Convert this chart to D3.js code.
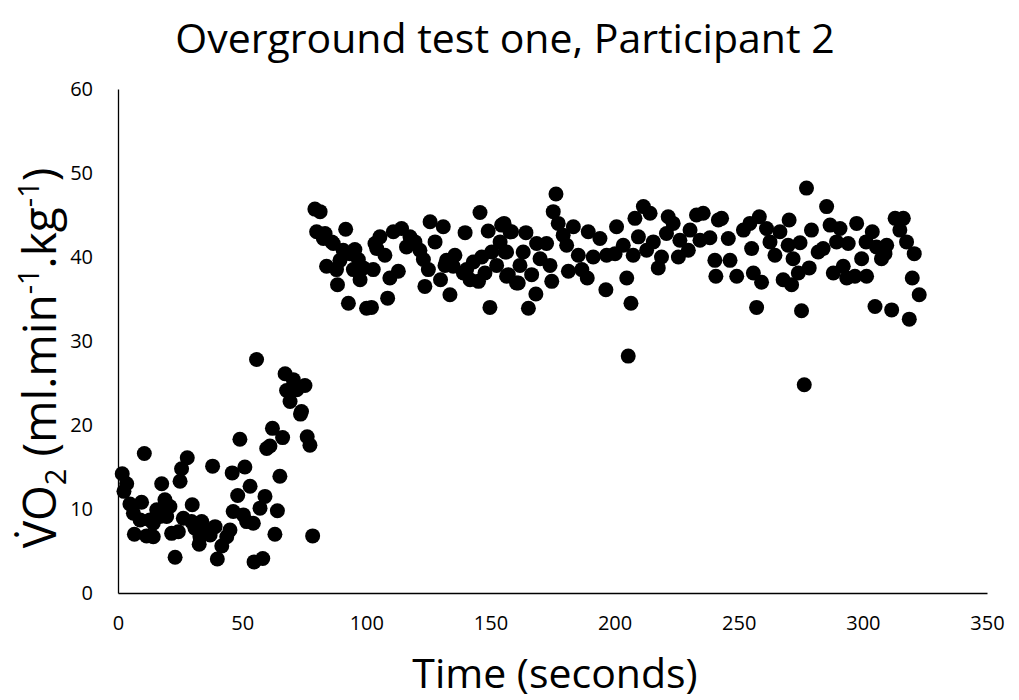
<!DOCTYPE html>
<html>
<head>
<meta charset="utf-8">
<script src="https://cdn.jsdelivr.net/npm/d3@7"></script>
<style>
  body { margin: 0; background: #fff; }
  text { font-family: "Open Sans", "Noto Sans", sans-serif; fill: #000; }
</style>
</head>
<body>
<div id="chart"></div>
<script>
// time (s) and VO2 (ml.min-1.kg-1)
const timeSec = [
  1.7, 2.4, 3.5, 4.8, 6.2, 6.6, 8.9, 9.5, 10.6, 11.5, 12.9, 14.2, 14.2, 15.6, 16.9, 17.6, 18.9, 19.6,
  20.9, 21.6, 23, 24.3, 25, 25.6, 26.3, 27.9, 29.6, 29.9, 31, 32.7, 33, 33.7, 35.7, 37.1, 38.1, 39.1,
  40, 41.8, 43.8, 45.1, 46, 46.4, 48.2, 49.1, 50.5, 51.1, 51.8, 53.2, 54.5, 54.8, 55.8, 57.2, 58.3,
  59.2, 59.9, 61.2, 62.2, 63.2, 64.2, 65.2, 66.3, 67.3, 67.9, 69.3, 70.6, 72, 73.5, 73.9, 75.3, 76.2,
  77.3, 78.4,
  79.3, 80, 81.4, 82.7, 83.4, 84, 86.1, 86.7, 88, 88.4, 89.4, 90.7, 91.7, 92.8, 93.4, 94.8, 95.4, 96.8,
  97.5, 98.8, 100.1, 102.1, 102.8, 103.5, 104.2, 105.5, 107.5, 108.6, 109.5, 110.9, 112.9, 114.2,
  116.2, 117.6, 119.6, 121.6, 123, 123.6, 125, 125.7, 127.7, 129.9, 131, 131.7, 132.3, 133.7, 135,
  135.7, 139.1, 139.8, 140.4, 141.8, 143.1, 145.2, 145.8, 146.5, 147.8, 149.1, 149.8, 150.5, 152.5,
  153.9, 154.5, 155.5, 155.9, 156.5, 156.5, 157.2, 157.9, 158.5, 160.5, 161.2, 161.9, 163.2, 164.3,
  165.3, 166.6, 168.3, 168.6, 170, 172.6, 174, 174.7, 175.3, 176.4, 177.3, 179.3, 180.7, 181.4, 183.4,
  185.4, 186.8, 189, 189.4, 191.4, 194.1, 196.5, 196.8, 200.2, 200.8, 203.5, 204.9, 205.5, 206.6,
  207.5, 208.2, 209.6, 211.6, 212.9, 214.3, 215.6, 217.6, 218.9, 220.9, 221.6, 223.6, 225.7, 226.3,
  229.7, 230.4, 233, 234.4, 235.7, 238.4, 240.4, 240.8, 241.8, 243.1, 245.8, 246.5, 249.2, 251.9,
  254.5, 255.2, 255.9, 257.2, 258.3, 259.2, 261.2, 262.6, 264.6, 266.6, 267.9, 269.9, 270.3, 271.3,
  271.9, 274, 274.7, 275.3, 276.4, 277.3, 278.4, 279.3, 282, 284, 285.4, 286.8, 288.1, 289.4, 290.8,
  292.1, 293.5, 294.1, 296.8, 297.5, 299.5, 301.3, 301.5, 303.8, 304.9, 305.5, 307.5, 308.9, 309.6,
  311.6, 313, 314.9, 316.3, 317.6, 318.7, 319.9, 320.7, 322.7
];
const vo2 = [
  14.2, 12.1, 13.0, 10.6, 9.5, 7.0, 8.7, 10.8, 16.6, 6.8, 8.7, 8.3, 6.7, 9.9, 9.1, 13.0, 11.1, 9.1,
  10.3, 7.1, 4.25, 7.3, 13.3, 14.8, 8.9, 16.1, 8.5, 10.5, 7.7, 5.8, 6.7, 8.5, 7.5, 6.9, 15.1, 7.9,
  4.05, 5.6, 6.7, 7.5, 14.3, 9.7, 11.6, 18.3, 9.3, 15.0, 8.5, 12.7, 8.3, 3.7, 27.8, 10.1, 4.1,
  11.5, 17.2, 17.5, 19.6, 7.0, 9.8, 13.9, 18.5, 26.1, 24.1, 22.8, 25.4, 24.2, 21.3, 21.6, 24.7, 18.6,
  17.6, 6.8,
  45.7, 43.0, 45.4, 42.2, 42.8, 38.9, 41.8, 41.6, 38.5, 36.7, 39.6, 40.8, 43.3, 34.5, 40.4, 38.5, 40.9, 39.7,
  37.3, 38.7, 33.9, 34.0, 38.5, 41.6, 41.0, 42.4, 40.2, 35.1, 37.5, 43.0, 38.3, 43.4,
  41.2, 42.4, 41.8, 40.8, 39.7, 36.5, 38.5, 44.2, 41.8, 37.3, 43.6, 39.0, 39.6, 35.5, 38.9,
  40.2, 38.1, 42.9, 38.5, 37.3, 39.4, 37.1, 45.3, 40.0, 38.1, 43.1, 34.0, 40.6, 39.0,
  41.8, 43.8, 44.0, 40.6, 40.6, 37.7, 37.9, 43.0, 43.0, 36.9, 36.9, 39.0, 40.6, 42.9,
  33.9, 37.9, 35.6, 41.6, 39.8, 41.6, 39.0, 37.1, 45.4, 47.5, 44.0, 42.6, 41.4, 38.3, 43.6,
  40.2, 38.5, 37.5, 43.0, 40.0, 42.2, 36.1, 40.2, 40.4, 43.6, 41.4, 37.5, 28.2, 34.5,
  40.2, 44.6, 42.4, 46.0, 40.8, 45.2, 41.8, 38.7, 40.0, 42.8, 44.8, 44.0, 40.0, 42.0,
  40.8, 43.2, 45.0, 42.0, 45.2, 42.3, 39.6, 37.7, 44.4, 44.6, 42.2, 39.6, 37.7, 43.2,
  44.0, 41.0, 38.1, 34.0, 44.8, 37.0, 43.4, 41.8, 40.2, 43.0, 37.3, 41.4, 44.4, 36.7,
  39.8, 38.1, 41.7, 33.6, 24.8, 48.2, 38.7, 43.2, 40.6, 41.0, 46.0, 43.8, 38.1, 41.8, 43.4,
  38.9, 37.5, 41.6, 37.7, 44.0, 39.8, 41.8, 37.7, 43.0, 34.1, 41.2, 39.8, 40.4, 41.4,
  33.7, 44.6, 43.2, 44.6, 41.8, 32.6, 37.5, 40.4, 35.5
];
const xTicks = [0, 50, 100, 150, 200, 250, 300, 350];
const yTicks = [0, 10, 20, 30, 40, 50, 60];

const points = timeSec.map((t, i) => ({ t: t, v: vo2[i] }));

const width = 1019;
const height = 700;
const margin = { top: 89, right: 32, bottom: 107, left: 118 };

const svg = d3.select('#chart').append('svg')
  .attr('width', width)
  .attr('height', height);

const x = d3.scaleLinear()
  .domain([0, 350])
  .range([margin.left, width - margin.right]);

const y = d3.scaleLinear()
  .domain([0, 60])
  .range([height - margin.bottom, margin.top]);

// axes: plain lines, no tick marks
const xAxis = d3.axisBottom(x).tickValues(xTicks).tickSize(0).tickPadding(23);
const yAxis = d3.axisLeft(y).tickValues(yTicks).tickSize(0).tickPadding(25);

const gx = svg.append('g')
  .attr('transform', `translate(0,${height - margin.bottom})`)
  .call(xAxis);
const gy = svg.append('g')
  .attr('transform', `translate(${margin.left},0)`)
  .call(yAxis);

[gx, gy].forEach(g => {
  g.select('.domain').attr('stroke', '#000').attr('stroke-width', 1.3);
  g.selectAll('text')
    .attr('font-family', '"Open Sans", "Noto Sans", sans-serif')
    .attr('font-size', 20)
    .attr('fill', '#000');
});

svg.append('g')
  .selectAll('circle')
  .data(points)
  .join('circle')
  .attr('cx', d => x(d.t))
  .attr('cy', d => y(d.v))
  .attr('r', 7.5)
  .attr('fill', '#000');

svg.append('text')
  .attr('x', 505)
  .attr('y', 53)
  .attr('text-anchor', 'middle')
  .attr('font-size', 41)
  .text('Overground test one, Participant 2');

svg.append('text')
  .attr('x', 555)
  .attr('y', 688)
  .attr('text-anchor', 'middle')
  .attr('font-size', 41)
  .text('Time (seconds)');

const yl = svg.append('text')
  .attr('transform', 'translate(56,358) rotate(-90)')
  .attr('text-anchor', 'middle')
  .attr('font-size', 46);
yl.append('tspan').text('V\u0307O');
yl.append('tspan').attr('font-size', 29).attr('dy', 10).text('2');
yl.append('tspan').attr('dy', -10).text(' (ml.min');
yl.append('tspan').attr('font-size', 29).attr('dy', -17).text('-1');
yl.append('tspan').attr('dy', 17).text('.kg');
yl.append('tspan').attr('font-size', 29).attr('dy', -17).text('-1');
yl.append('tspan').attr('dy', 17).text(')');
</script>
</body>
</html>
